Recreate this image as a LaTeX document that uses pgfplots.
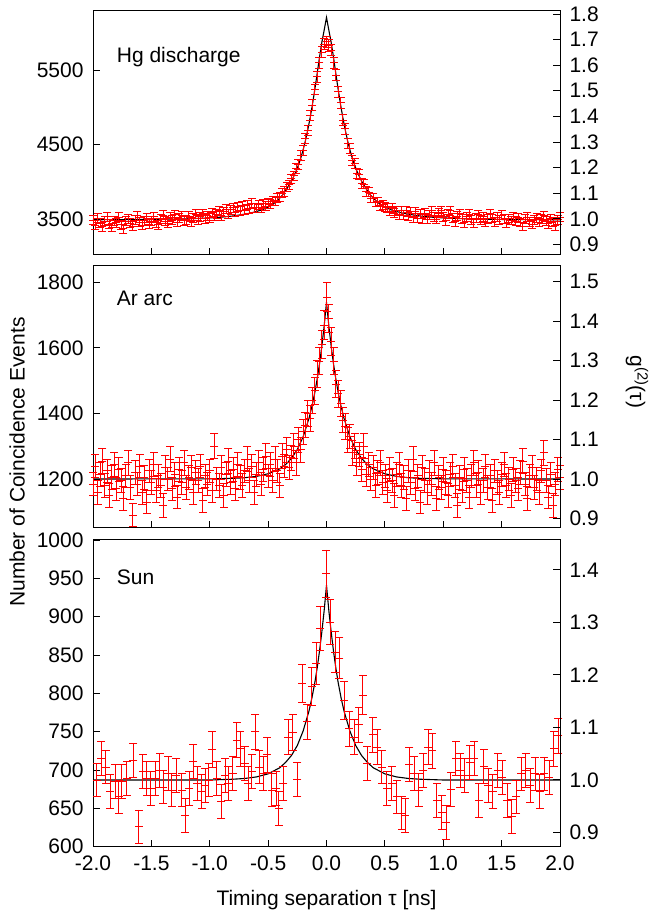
\documentclass[border=0pt]{standalone}
\usepackage{fontspec}
\setmainfont{Liberation Sans}
\usepackage{pgfplots}
\pgfplotsset{compat=1.18}
\usepackage{pgfplotstable}
\newcommand{\fs}{\fontsize{21}{25}\selectfont}

\pgfplotstableread{
x y e
-2.00 3488 59
-1.98 3416 59
-1.96 3515 59
-1.94 3443 59
-1.92 3398 59
-1.90 3470 59
-1.88 3533 59
-1.86 3434 59
-1.84 3389 59
-1.82 3479 59
-1.80 3452 59
-1.78 3524 59
-1.76 3425 59
-1.74 3371 59
-1.72 3470 59
-1.70 3506 59
-1.68 3443 59
-1.66 3407 59
-1.64 3488 59
-1.62 3542 59
-1.60 3461 59
-1.58 3416 59
-1.56 3479 59
-1.54 3515 59
-1.52 3434 59
-1.50 3470 59
-1.48 3533 59
-1.46 3452 59
-1.44 3425 59
-1.42 3506 59
-1.40 3551 59
-1.38 3470 59
-1.36 3443 59
-1.34 3524 59
-1.32 3488 59
-1.30 3560 60
-1.28 3461 59
-1.26 3515 59
-1.24 3542 59
-1.22 3479 59
-1.20 3493 59
-1.18 3538 59
-1.16 3466 59
-1.14 3511 59
-1.12 3565 60
-1.10 3484 59
-1.08 3529 59
-1.06 3574 60
-1.04 3502 59
-1.02 3547 59
-1.00 3520 59
-0.98 3583 60
-0.96 3538 59
-0.94 3565 60
-0.92 3610 60
-0.90 3545 60
-0.88 3600 60
-0.86 3635 60
-0.84 3570 60
-0.82 3625 60
-0.80 3655 60
-0.78 3590 60
-0.76 3665 60
-0.74 3610 60
-0.72 3680 61
-0.70 3620 60
-0.68 3690 61
-0.66 3640 60
-0.64 3710 61
-0.62 3650 60
-0.60 3650 60
-0.58 3690 61
-0.56 3655 60
-0.54 3705 61
-0.52 3675 60
-0.50 3710 61
-0.48 3700 61
-0.46 3740 61
-0.44 3745 61
-0.42 3785 61
-0.40 3795 62
-0.38 3850 62
-0.36 3870 62
-0.34 3935 63
-0.32 3960 63
-0.30 4040 63
-0.28 4080 64
-0.26 4180 65
-0.24 4230 65
-0.22 4350 66
-0.20 4420 66
-0.18 4580 68
-0.16 4690 68
-0.14 4890 70
-0.12 5030 71
-0.10 5240 72
-0.08 5410 74
-0.06 5600 75
-0.04 5740 76
-0.02 5850 76
0.00 5880 77
0.02 5830 76
0.04 5770 76
0.06 5600 75
0.08 5430 74
0.10 5210 72
0.12 5060 71
0.14 4830 70
0.16 4710 69
0.18 4520 67
0.20 4450 67
0.22 4290 66
0.24 4250 65
0.26 4110 64
0.28 4100 64
0.30 3980 63
0.32 3970 63
0.34 3870 62
0.36 3860 62
0.38 3780 62
0.40 3780 61
0.42 3725 61
0.44 3730 61
0.46 3680 61
0.48 3690 61
0.50 3665 60
0.52 3655 60
0.54 3605 60
0.56 3650 60
0.58 3580 60
0.60 3610 60
0.62 3560 60
0.64 3610 60
0.66 3550 60
0.68 3610 60
0.70 3535 59
0.72 3600 60
0.74 3520 59
0.76 3600 60
0.78 3515 59
0.80 3575 60
0.82 3505 59
0.84 3580 60
0.86 3500 59
0.88 3555 60
0.90 3610 60
0.92 3530 59
0.94 3495 59
0.96 3580 60
0.98 3615 60
1.00 3530 59
1.02 3480 59
1.04 3565 60
1.06 3610 60
1.08 3520 59
1.10 3465 59
1.12 3540 59
1.14 3575 60
1.16 3505 59
1.18 3450 59
1.20 3530 59
1.22 3565 60
1.24 3490 59
1.26 3450 59
1.28 3515 59
1.30 3560 60
1.32 3490 59
1.34 3530 59
1.36 3455 59
1.38 3505 59
1.40 3570 60
1.42 3508 59
1.44 3463 59
1.46 3526 59
1.48 3490 59
1.50 3553 60
1.52 3499 59
1.54 3445 59
1.56 3508 59
1.58 3481 59
1.60 3535 59
1.62 3472 59
1.64 3517 59
1.66 3454 59
1.68 3400 59
1.70 3499 59
1.72 3526 59
1.74 3463 59
1.76 3427 59
1.78 3490 59
1.80 3517 59
1.82 3454 59
1.84 3499 59
1.86 3544 59
1.88 3472 59
1.90 3436 59
1.92 3508 59
1.94 3463 59
1.96 3409 59
1.98 3490 59
2.00 3526 59
}\hgdata

\pgfplotstableread{
x y
-2.00 3490
-1.50 3494
-1.20 3502
-1.00 3515
-0.90 3525
-0.80 3541
-0.70 3565
-0.65 3580
-0.60 3600
-0.55 3625
-0.50 3658
-0.48 3676
-0.46 3697
-0.44 3722
-0.42 3750
-0.40 3780
-0.38 3815
-0.36 3860
-0.34 3905
-0.32 3955
-0.30 4010
-0.28 4075
-0.26 4145
-0.24 4225
-0.22 4320
-0.20 4430
-0.18 4555
-0.16 4700
-0.14 4860
-0.12 5040
-0.10 5240
-0.08 5450
-0.06 5670
-0.04 5870
-0.02 6035
0.00 6205
0.02 6035
0.04 5870
0.06 5670
0.08 5450
0.10 5240
0.12 5040
0.14 4860
0.16 4700
0.18 4555
0.20 4430
0.22 4320
0.24 4225
0.26 4145
0.28 4075
0.30 4010
0.32 3955
0.34 3905
0.36 3860
0.38 3815
0.40 3780
0.42 3750
0.44 3722
0.46 3697
0.48 3676
0.50 3658
0.55 3625
0.60 3600
0.65 3580
0.70 3565
0.80 3541
0.90 3525
1.00 3515
1.20 3502
1.50 3494
2.00 3490
}\hgfit

\pgfplotstableread{
x y e
-2.00 1185 36
-1.98 1240 36
-1.96 1160 36
-1.94 1215 36
-1.92 1255 38
-1.90 1180 36
-1.88 1225 36
-1.86 1150 36
-1.84 1205 36
-1.82 1245 36
-1.80 1170 36
-1.78 1230 36
-1.76 1195 36
-1.74 1140 36
-1.72 1210 36
-1.70 1250 38
-1.68 1175 36
-1.66 1090 35
-1.64 1220 36
-1.62 1185 36
-1.60 1240 36
-1.58 1160 36
-1.56 1205 36
-1.54 1130 36
-1.52 1225 36
-1.50 1190 36
-1.48 1245 36
-1.46 1165 36
-1.44 1210 36
-1.42 1180 36
-1.40 1120 36
-1.38 1235 36
-1.36 1200 36
-1.34 1260 38
-1.32 1170 36
-1.30 1215 36
-1.28 1145 36
-1.26 1230 36
-1.24 1190 36
-1.22 1250 38
-1.20 1175 36
-1.18 1205 36
-1.16 1235 36
-1.14 1160 36
-1.12 1220 36
-1.10 1195 36
-1.08 1240 36
-1.06 1135 36
-1.04 1210 36
-1.02 1185 36
-1.00 1225 36
-0.98 1165 36
-0.96 1300 38
-0.94 1200 36
-0.92 1180 36
-0.90 1235 36
-0.88 1150 36
-0.86 1215 36
-0.84 1255 38
-0.82 1190 36
-0.80 1230 36
-0.78 1170 36
-0.76 1245 36
-0.74 1205 36
-0.72 1180 36
-0.70 1225 36
-0.68 1260 38
-0.66 1195 36
-0.64 1240 36
-0.62 1160 36
-0.60 1215 36
-0.58 1250 38
-0.56 1185 36
-0.54 1230 36
-0.52 1270 38
-0.50 1210 36
-0.48 1245 36
-0.46 1195 36
-0.44 1260 38
-0.42 1225 36
-0.40 1180 36
-0.38 1270 38
-0.36 1240 36
-0.34 1290 38
-0.32 1235 36
-0.30 1265 38
-0.28 1300 38
-0.26 1250 38
-0.24 1320 38
-0.22 1290 38
-0.20 1345 38
-0.18 1365 39
-0.16 1400 39
-0.14 1385 39
-0.12 1440 39
-0.10 1470 41
-0.08 1520 41
-0.06 1560 42
-0.04 1610 42
-0.02 1670 44
0.00 1755 44
0.02 1690 44
0.04 1620 42
0.06 1560 42
0.08 1490 41
0.10 1460 41
0.12 1430 39
0.14 1380 39
0.16 1360 39
0.18 1320 38
0.20 1330 38
0.22 1280 38
0.24 1300 38
0.26 1250 38
0.28 1275 38
0.30 1230 36
0.32 1300 38
0.34 1215 36
0.36 1245 36
0.38 1200 36
0.40 1235 36
0.42 1180 36
0.44 1220 36
0.46 1250 38
0.48 1190 36
0.50 1210 36
0.52 1165 36
0.54 1230 36
0.56 1195 36
0.58 1150 36
0.60 1215 36
0.62 1245 36
0.64 1180 36
0.66 1205 36
0.68 1140 36
0.70 1225 36
0.72 1190 36
0.74 1260 38
0.76 1170 36
0.78 1210 36
0.80 1130 36
0.82 1235 36
0.84 1195 36
0.86 1160 36
0.88 1220 36
0.90 1185 36
0.92 1250 38
0.94 1140 36
0.96 1205 36
0.98 1175 36
1.00 1230 36
1.02 1190 36
1.04 1150 36
1.06 1215 36
1.08 1240 36
1.10 1180 36
1.12 1120 36
1.14 1205 36
1.16 1165 36
1.18 1230 36
1.20 1195 36
1.22 1145 36
1.24 1210 36
1.26 1250 38
1.28 1180 36
1.30 1220 36
1.32 1160 36
1.34 1195 36
1.36 1240 36
1.38 1175 36
1.40 1210 36
1.42 1135 36
1.44 1225 36
1.46 1190 36
1.48 1160 36
1.50 1215 36
1.52 1245 36
1.54 1180 36
1.56 1200 36
1.58 1150 36
1.60 1230 36
1.62 1195 36
1.64 1170 36
1.66 1220 36
1.68 1255 38
1.70 1185 36
1.72 1140 36
1.74 1210 36
1.76 1235 36
1.78 1175 36
1.80 1200 36
1.82 1160 36
1.84 1225 36
1.86 1280 38
1.88 1195 36
1.90 1145 36
1.92 1215 36
1.94 1120 36
1.96 1185 36
1.98 1230 36
2.00 1205 36
}\ardata

\pgfplotstableread{
x y
-2.00 1200
-1.00 1200.5
-0.80 1202
-0.70 1204
-0.60 1208
-0.50 1216
-0.40 1231
-0.35 1244
-0.30 1263
-0.25 1290
-0.20 1329
-0.15 1385
-0.125 1421
-0.10 1464
-0.08 1505
-0.06 1551
-0.04 1605
-0.02 1667
0.00 1739
0.02 1667
0.04 1605
0.06 1551
0.08 1505
0.10 1464
0.125 1421
0.15 1385
0.20 1329
0.25 1290
0.30 1263
0.35 1244
0.40 1231
0.50 1216
0.60 1208
0.70 1204
0.80 1202
1.00 1200.5
2.00 1200
}\arfit

\pgfplotstableread{
x y e
-1.97 687 22
-1.93 715 22
-1.89 704 22
-1.855 672 22
-1.81 685 22
-1.78 665 22
-1.755 685 22
-1.71 689 22
-1.655 713 22
-1.61 626 22
-1.575 698 22
-1.54 689 22
-1.505 676 22
-1.47 689 22
-1.43 700 22
-1.40 678 22
-1.355 696 22
-1.325 674 22
-1.285 693 22
-1.24 674 22
-1.21 641 22
-1.175 676 22
-1.14 711 22
-1.11 683 22
-1.07 672 22
-1.04 680 22
-1.01 687 22
-0.98 727 23
-0.94 689 22
-0.90 659 22
-0.87 693 22
-0.84 683 22
-0.805 696 22
-0.77 739 23
-0.74 728 23
-0.70 709 22
-0.67 683 22
-0.64 698 22
-0.61 750 23
-0.575 704 22
-0.54 696 22
-0.51 720 23
-0.47 674 22
-0.43 676 22
-0.41 650 22
-0.37 683 22
-0.33 743 23
-0.29 749 23
-0.25 688 22
-0.21 813 25
-0.165 763 23
-0.127 809 25
-0.09 839 27
-0.055 885 29
-0.004 956 31
0.03 893 29
0.073 854 27
0.11 846 27
0.15 791 25
0.193 754 23
0.236 743 23
0.276 759 23
0.31 798 25
0.35 709 22
0.396 746 23
0.435 730 23
0.473 704 22
0.516 676 22
0.558 683 22
0.60 665 22
0.644 644 22
0.672 641 22
0.709 707 22
0.75 696 22
0.79 674 22
0.83 700 22
0.87 730 23
0.905 725 23
0.945 660 22
0.985 645 22
1.025 632 22
1.065 675 22
1.105 715 22
1.145 700 22
1.185 693 22
1.225 710 22
1.265 715 22
1.305 660 22
1.345 705 22
1.385 680 22
1.425 672 22
1.465 700 22
1.505 690 22
1.545 660 22
1.585 640 22
1.625 665 22
1.665 695 22
1.705 700 22
1.745 680 22
1.785 695 22
1.825 672 22
1.865 695 22
1.905 690 22
1.945 728 23
1.985 745 23
}\sundata

\pgfplotstableread{
x y
-2.00 687
-1.00 687
-0.80 688
-0.70 689
-0.60 691
-0.50 695
-0.40 703
-0.35 710
-0.30 719
-0.25 732
-0.20 751
-0.15 777
-0.125 794
-0.10 814
-0.08 833
-0.06 855
-0.04 880
-0.02 908
0.00 941
0.02 908
0.04 880
0.06 855
0.08 833
0.10 814
0.125 794
0.15 777
0.20 751
0.25 732
0.30 719
0.35 710
0.40 703
0.50 695
0.60 691
0.70 689
0.80 688
1.00 687
2.00 687
}\sunfit

\pgfplotsset{
  base/.style={scale only axis, width=467pt, xmin=-2, xmax=2, clip=false,
    axis line style={draw=black, line width=1pt}, tick align=inside, major tick length=7pt,
    every tick/.style={draw=black, line width=0.9pt},
    tick label style={font=\fs},
    xtick={-2,-1.5,-1,-0.5,0,0.5,1,1.5,2}},
  leftax/.style={base, xtick pos=left, ytick pos=left,
    yticklabel style={xshift=-6pt}, xticklabel style={yshift=-6pt}},
  rightax/.style={base, hide x axis, axis y line*=right,
    yticklabel style={xshift=6pt}},
  cap/.style={only marks, mark=-, mark size=4pt, red, mark options={line width=0.75pt}},
  fit/.style={draw=black, line width=1.1pt, no marks},
}
% #1 table, #2 list of the error values in it, #3 pt per count of the panel.
% Vertical error bars are drawn as | marks of half-length e (one plot per error value),
% caps as - marks at y-e and y+e, and a - mark at y.
\newcommand{\errplot}[3]{%
  \pgfplotsinvokeforeach{#2}{%
    \addplot[only marks, mark=|, red, mark size={##1*#3},
      mark options={line width=0.75pt},
      restrict expr to domain={\thisrow{e}}{##1:##1}] table[x=x, y=y] {#1};
  }
  \addplot[cap] table[x=x, y expr=\thisrow{y}-\thisrow{e}] {#1};
  \addplot[cap] table[x=x, y expr=\thisrow{y}+\thisrow{e}] {#1};
  \addplot[cap] table[x=x, y=y] {#1};
}

\begin{document}
\begin{tikzpicture}[x=1pt,y=1pt]
\path[use as bounding box] (0,0) rectangle (656,912);

% Panel 1: Hg discharge
\begin{axis}[leftax, at={(93pt,657pt)}, anchor=south west, height=244.3pt,
  ymin=3017, ymax=6296, ytick={3500,4500,5500}, yticklabels={3500,4500,5500},
  xticklabels={}]
\errplot{\hgdata}{59,60,61,62,63,64,65,66,67,68,69,70,71,72,74,75,76,77}{0.074504}
\addplot[fit] table[x=x, y=y] {\hgfit};
\end{axis}
\begin{axis}[rightax, at={(93pt,657pt)}, anchor=south west, height=244.3pt,
  ymin=0.859, ymax=1.813,
  ytick={0.9,1.0,1.1,1.2,1.3,1.4,1.5,1.6,1.7,1.8},
  yticklabels={0.9,1.0,1.1,1.2,1.3,1.4,1.5,1.6,1.7,1.8}]
\end{axis}

% Panel 2: Ar arc
\begin{axis}[leftax, at={(93pt,384.3pt)}, anchor=south west, height=262pt,
  ymin=1051.5, ymax=1850.6, ytick={1200,1400,1600,1800},
  yticklabels={1200,1400,1600,1800}, xticklabels={}]
\errplot{\ardata}{35,36,38,39,41,42,44}{0.327869}
\addplot[fit] table[x=x, y=y] {\arfit};
\end{axis}
\begin{axis}[rightax, at={(93pt,384.3pt)}, anchor=south west, height=262pt,
  ymin=0.8767, ymax=1.5405,
  ytick={0.9,1.0,1.1,1.2,1.3,1.4,1.5},
  yticklabels={0.9,1.0,1.1,1.2,1.3,1.4,1.5}]
\end{axis}

% Panel 3: Sun
\begin{axis}[leftax, at={(93pt,65.3pt)}, anchor=south west, height=306.7pt,
  ymin=600, ymax=1000, ytick={600,650,700,750,800,850,900,950,1000},
  yticklabels={600,650,700,750,800,850,900,950,1000},
  xticklabels={-2.0,-1.5,-1.0,-0.5,0.0,0.5,1.0,1.5,2.0}]
\errplot{\sundata}{22,23,25,27,29,31}{0.76675}
\addplot[fit] table[x=x, y=y] {\sunfit};
\end{axis}
\begin{axis}[rightax, at={(93pt,65.3pt)}, anchor=south west, height=306.7pt,
  ymin=0.8726, ymax=1.457,
  ytick={0.9,1.0,1.1,1.2,1.3,1.4},
  yticklabels={0.9,1.0,1.1,1.2,1.3,1.4}]
\end{axis}

\node[anchor=base west, font=\fs, inner sep=0pt] at (116.7,849.7) {Hg discharge};
\node[anchor=base west, font=\fs, inner sep=0pt] at (116.7,606) {Ar arc};
\node[anchor=base west, font=\fs, inner sep=0pt] at (116.7,327) {Sun};
\node[anchor=base, font=\fs, inner sep=0pt] at (326.5,6) {Timing separation τ [ns]};
\node[rotate=90, font=\fs, inner sep=0pt] at (17,450) {Number of Coincidence Events};
\node[rotate=-90, font=\fs, inner sep=0pt] at (637,530) {g\textsuperscript{(2)}(τ)};
\end{tikzpicture}
\end{document}
